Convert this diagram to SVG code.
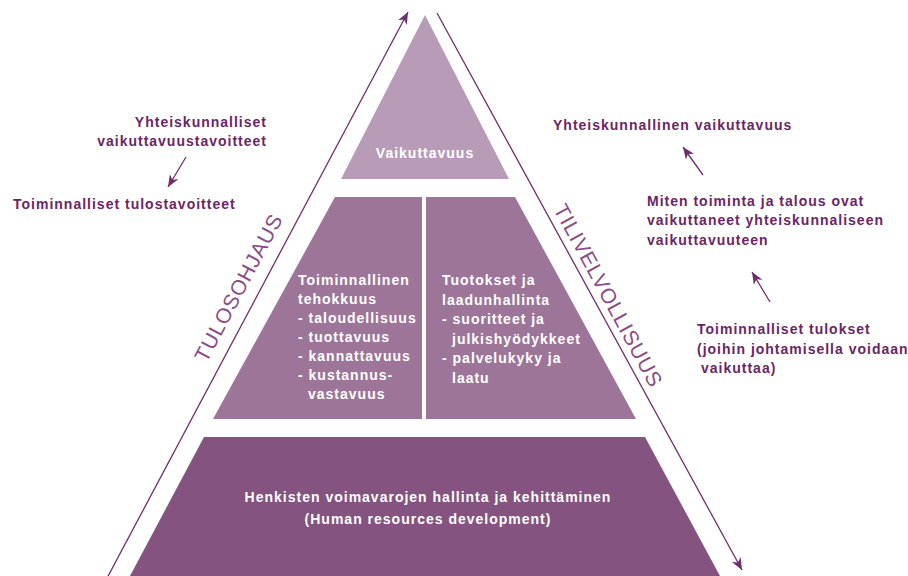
<svg xmlns="http://www.w3.org/2000/svg" width="908" height="576" viewBox="0 0 908 576">
<style>
.lbl{font-family:"Liberation Sans",Arial,sans-serif;font-weight:bold;font-size:14px;letter-spacing:1px;fill:#6b2566}
.wt{font-family:"Liberation Sans",Arial,sans-serif;font-weight:bold;font-size:14px;letter-spacing:1px;fill:#ffffff}
.rot{font-family:"Liberation Sans",Arial,sans-serif;font-size:21px;letter-spacing:0.8px;fill:#8a4c86}
.ln{stroke:#6f2f6b;stroke-width:1.3;fill:none}
</style>
<defs>
<marker id="ah" markerUnits="userSpaceOnUse" markerWidth="13" markerHeight="11" refX="12" refY="5" orient="auto">
<path d="M0,0 L12,5 L0,10 L3.5,5 z" fill="#6f2f6b"/>
</marker>
</defs>
<rect width="908" height="576" fill="#ffffff"/>
<g id="top">
<polygon points="425,15 509,179 341,179" fill="#b89cb7"/>
<text class="wt" x="425" y="158" text-anchor="middle">Vaikuttavuus</text>
</g>
<g id="middle-left">
<polygon points="335,197 422,197 422,419 213,419" fill="#9d7599"/>
<text class="wt" x="298" y="285">Toiminnallinen</text>
<text class="wt" x="298" y="304">tehokkuus</text>
<text class="wt" x="298" y="323">- taloudellisuus</text>
<text class="wt" x="298" y="342">- tuottavuus</text>
<text class="wt" x="298" y="361">- kannattavuus</text>
<text class="wt" x="298" y="380">- kustannus-</text>
<text class="wt" x="308" y="399">vastavuus</text>
</g>
<g id="middle-right">
<polygon points="426,197 515,197 636,419 426,419" fill="#9d7599"/>
<text class="wt" x="442" y="285">Tuotokset ja</text>
<text class="wt" x="442" y="304.5">laadunhallinta</text>
<text class="wt" x="442" y="324">- suoritteet ja</text>
<text class="wt" x="452" y="343.5">julkishyödykkeet</text>
<text class="wt" x="442" y="363">- palvelukyky ja</text>
<text class="wt" x="452" y="382.5">laatu</text>
</g>
<g id="bottom">
<polygon points="204,437 645,437 720,576 130,576" fill="#84537f"/>
<text class="wt" x="428" y="502" text-anchor="middle">Henkisten voimavarojen hallinta ja kehittäminen</text>
<text class="wt" x="428" y="524" text-anchor="middle">(Human resources development)</text>
</g>
<g id="connectors">
<line class="ln" x1="106" y1="580" x2="408" y2="12" marker-end="url(#ah)"/>
<line class="ln" x1="437" y1="13" x2="742" y2="570" marker-end="url(#ah)"/>
<line class="ln" x1="186" y1="157" x2="168" y2="187" marker-end="url(#ah)"/>
<line class="ln" x1="703" y1="175" x2="683" y2="147" marker-end="url(#ah)"/>
<line class="ln" x1="770" y1="302" x2="752" y2="272" marker-end="url(#ah)"/>
</g>
<g id="tulosohjaus">
<text class="rot" transform="translate(245,291) rotate(-62)" text-anchor="middle">TULOSOHJAUS</text>
</g>
<g id="tilivelvollisuus">
<text class="rot" transform="translate(602,299) rotate(61.5)" text-anchor="middle">TILIVELVOLLISUUS</text>
</g>
<g id="left-labels">
<text class="lbl" x="267" y="127" text-anchor="end">Yhteiskunnalliset</text>
<text class="lbl" x="267" y="146" text-anchor="end">vaikuttavuustavoitteet</text>
<text class="lbl" x="13" y="209">Toiminnalliset tulostavoitteet</text>
</g>
<g id="right-labels">
<text class="lbl" x="553" y="130">Yhteiskunnallinen vaikuttavuus</text>
<text class="lbl" x="647" y="206">Miten toiminta ja talous ovat</text>
<text class="lbl" x="647" y="225">vaikuttaneet yhteiskunnaliseen</text>
<text class="lbl" x="647" y="245">vaikuttavuuteen</text>
<text class="lbl" x="697" y="334">Toiminnalliset tulokset</text>
<text class="lbl" x="697" y="354">(joihin johtamisella voidaan</text>
<text class="lbl" x="701" y="373">vaikuttaa)</text>
</g>
</svg>
